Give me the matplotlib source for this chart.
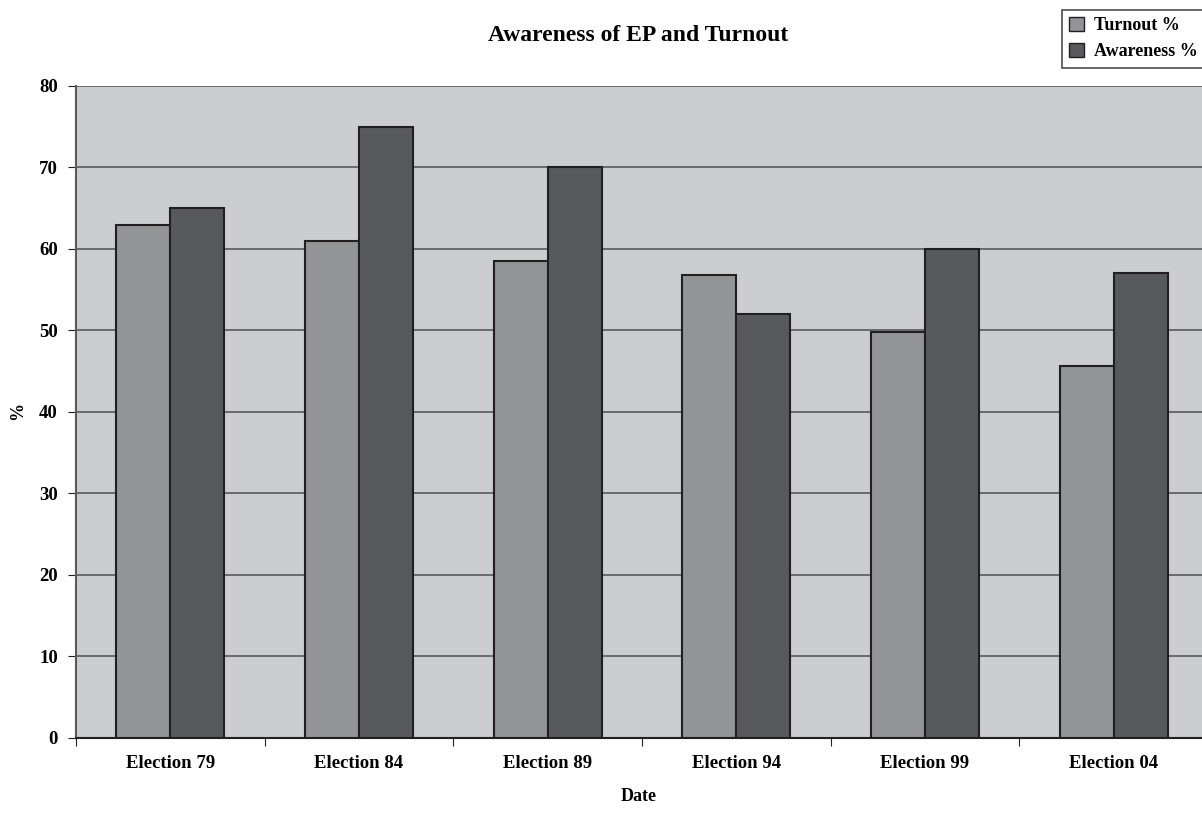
import numpy as np
import matplotlib.pyplot as plt
from matplotlib.patches import Patch

elections = ["Election 79", "Election 84", "Election 89", "Election 94", "Election 99", "Election 04"]
turnout = [63.0, 61.0, 58.5, 56.8, 49.8, 45.7]
awareness = [65.0, 75.0, 70.0, 52.0, 60.0, 57.0]

plt.rcParams['font.family'] = ['Liberation Serif', 'DejaVu Serif']

fig = plt.figure(figsize=(12.02, 8.14), dpi=100)
ax = fig.add_axes([0.0632, 0.0934, 0.9418, 0.801])
ax.set_facecolor("#cccdcf")

x = np.arange(len(elections))
w = 0.286
ax.bar(x - w / 2, turnout, w, color="#939497", edgecolor="#231f20", linewidth=1.5, zorder=3)
ax.bar(x + w / 2, awareness, w, color="#58595b", edgecolor="#231f20", linewidth=1.5, zorder=3)

ax.set_xlim(-0.5, len(elections) - 0.5)
ax.set_ylim(0, 80)
ax.set_yticks(range(0, 81, 10))
ax.yaxis.grid(True, color="#58595b", linewidth=1.2, zorder=1)

# category labels sit between the boundary ticks
ax.set_xticks(np.arange(-0.5, len(elections), 1.0))
ax.set_xticklabels([])
ax.set_xticks(x, minor=True)
ax.set_xticklabels(elections, minor=True, fontsize=13.5, fontweight="bold")
ax.tick_params(axis="x", which="minor", length=0, pad=12)
ax.tick_params(axis="x", which="major", length=6, color="#231f20")
ax.tick_params(axis="y", length=6, color="#231f20", labelsize=13.5, pad=7)
for lab in ax.get_yticklabels():
    lab.set_fontweight("bold")

for side in ["top", "right"]:
    ax.spines[side].set_visible(False)
ax.spines["left"].set_color("#58595b")
ax.spines["left"].set_linewidth(1.5)
ax.spines["bottom"].set_color("#231f20")
ax.spines["bottom"].set_linewidth(1.5)

fig.text(0.531, 0.957, "Awareness of EP and Turnout", ha="center", va="center",
         fontsize=17, fontweight="bold")
fig.text(0.531, 0.011, "Date", ha="center", va="bottom", fontsize=13, fontweight="bold")
fig.text(0.015, 0.495, "%", ha="center", va="center", rotation=90, fontsize=13, fontweight="bold")

handles = [Patch(facecolor="#939497", edgecolor="#231f20", label="Turnout %"),
           Patch(facecolor="#58595b", edgecolor="#231f20", label="Awareness %")]
leg = fig.legend(handles=handles, loc="upper left", bbox_to_anchor=(0.8835, 0.988),
                 borderaxespad=0, frameon=True, fancybox=False, edgecolor="#231f20",
                 handlelength=0.8, handleheight=0.8, handletextpad=0.6,
                 borderpad=0.4, labelspacing=0.5, prop={"weight": "bold", "size": 13})
leg.get_frame().set_linewidth(1.2)

fig.savefig("out.png", dpi=100)
